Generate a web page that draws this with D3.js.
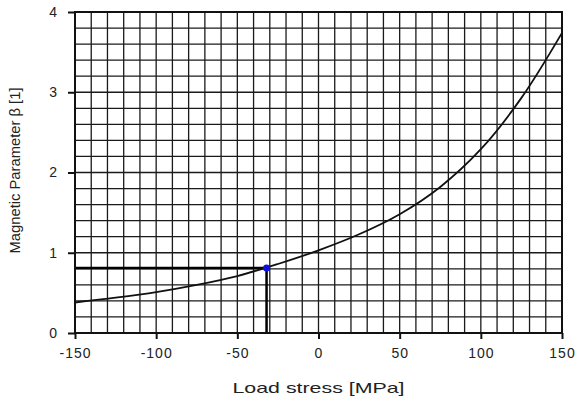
<!DOCTYPE html>
<html>
<head>
<meta charset="utf-8">
<script src="https://cdn.jsdelivr.net/npm/d3@7"></script>
<style>
  body { margin: 0; background: #fff; }
  text { font-family: "Liberation Sans", Arial, sans-serif; fill: #222; }
</style>
</head>
<body>
<svg id="chart" width="584" height="406"></svg>
<script>
// curve
const stress = [-150, -125, -100, -75, -50, -25, 0, 25, 50, 75, 100, 125, 150];
const beta   = [0.38, 0.44, 0.51, 0.60, 0.71, 0.86, 1.03, 1.23, 1.48, 1.82, 2.29, 2.93, 3.74];
const xTicks = [-150, -100, -50, 0, 50, 100, 150];
const yTicks = [0, 1, 2, 3, 4];
const marker = { x: -32, y: 0.81 };

const margin = { top: 12, right: 22, bottom: 73, left: 75 };
const width = 584 - margin.left - margin.right;
const height = 406 - margin.top - margin.bottom;

const svg = d3.select("#chart")
  .append("g")
  .attr("transform", "translate(" + margin.left + "," + margin.top + ")");

const x = d3.scaleLinear().domain([-150, 150]).range([0, width]);
const y = d3.scaleLinear().domain([0, 4]).range([height, 0]);

// fine grid
svg.append("g")
  .selectAll("line")
  .data(d3.range(-140, 150, 10))
  .enter().append("line")
  .attr("x1", d => x(d)).attr("x2", d => x(d))
  .attr("y1", 0).attr("y2", height)
  .attr("stroke", "#1a1a1a").attr("stroke-width", 1.3);

svg.append("g")
  .selectAll("line")
  .data(d3.range(1, 20).map(i => i * 0.2))
  .enter().append("line")
  .attr("x1", 0).attr("x2", width)
  .attr("y1", d => y(d)).attr("y2", d => y(d))
  .attr("stroke", "#1a1a1a").attr("stroke-width", 1.3);

// drop lines to the marked point
svg.append("line")
  .attr("x1", x(-150)).attr("x2", x(marker.x))
  .attr("y1", y(marker.y)).attr("y2", y(marker.y))
  .attr("stroke", "#000").attr("stroke-width", 2.5);
svg.append("line")
  .attr("x1", x(marker.x)).attr("x2", x(marker.x))
  .attr("y1", y(marker.y)).attr("y2", y(0))
  .attr("stroke", "#000").attr("stroke-width", 2.5);

// curve
const line = d3.line()
  .x((d, i) => x(stress[i]))
  .y(d => y(d))
  .curve(d3.curveCatmullRom);

svg.append("path")
  .datum(beta)
  .attr("d", line)
  .attr("fill", "none")
  .attr("stroke", "#111")
  .attr("stroke-width", 1.8);

svg.append("circle")
  .attr("cx", x(marker.x)).attr("cy", y(marker.y))
  .attr("r", 3.5)
  .attr("fill", "#1010e0");

// frame
svg.append("rect")
  .attr("width", width).attr("height", height)
  .attr("fill", "none").attr("stroke", "#111").attr("stroke-width", 2);

// axes
const fmt = d => String(d);
const xAxis = svg.append("g")
  .attr("transform", "translate(0," + height + ")")
  .call(d3.axisBottom(x).tickValues(xTicks).tickFormat(fmt).tickSize(6).tickPadding(9));

const yAxis = svg.append("g")
  .call(d3.axisLeft(y).tickValues(yTicks).tickFormat(fmt).tickSize(7).tickPadding(10));

[xAxis, yAxis].forEach(a => {
  a.select(".domain").remove();
  a.selectAll("line").attr("stroke", "#111").attr("stroke-width", 2);
  a.selectAll("text")
    .style("font-size", "14px")
    .style("letter-spacing", "1px")
    .style("font-family", "Liberation Sans, Arial, sans-serif")
    .attr("fill", "#222");
});

svg.append("text")
  .attr("x", width / 2).attr("y", height + 60)
  .attr("text-anchor", "middle")
  .attr("textLength", 172)
  .attr("lengthAdjust", "spacingAndGlyphs")
  .style("font-size", "15px")
  .text("Load stress [MPa]");

svg.append("text")
  .attr("transform", "rotate(-90)")
  .attr("x", -height / 2 + 2).attr("y", -55)
  .attr("text-anchor", "middle")
  .attr("textLength", 166)
  .attr("lengthAdjust", "spacingAndGlyphs")
  .style("font-size", "14px")
  .text("Magnetic  Parameter β [1]");
</script>
</body>
</html>
